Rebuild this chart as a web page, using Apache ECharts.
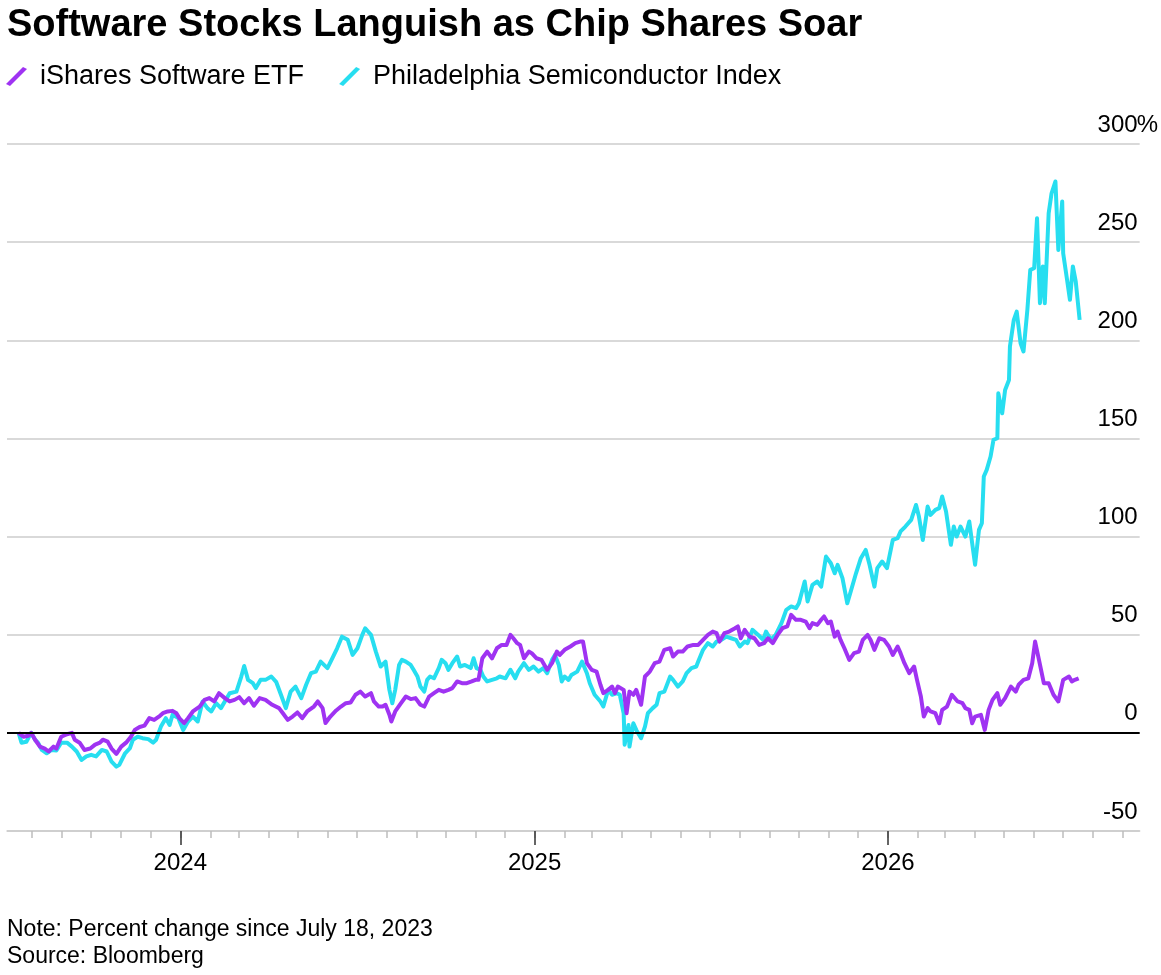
<!DOCTYPE html>
<html>
<head>
<meta charset="utf-8">
<title>Software Stocks Languish as Chip Shares Soar</title>
<script src="https://cdn.jsdelivr.net/npm/echarts@6/dist/echarts.min.js"></script>
<style>
  html, body { margin: 0; padding: 0; background: #ffffff; }
  #chart { width: 1161px; height: 975px; }
</style>
</head>
<body>
<div id="chart"></div>
<script>
// percent change since July 18, 2023; x = days after that date
const startDate = new Date(2023, 6, 18)

const softDays = [0, 5, 10, 13, 17, 22, 27, 31, 36, 39, 44, 50, 55, 58, 63, 68, 74, 79, 84, 87,
  92, 96, 101, 106, 111, 116, 120, 125, 130, 135, 140, 146, 149, 154, 159, 163, 166, 171, 175, 180,
  187, 192, 197, 202, 207, 213, 218, 223, 228, 233, 238, 243, 249, 255, 262, 269, 273, 278, 283, 288,
  293, 298, 305, 309, 314, 317, 322, 328, 333, 338, 343, 348, 353, 358, 364, 367, 372,
  376, 379, 383, 385, 389, 395, 400, 405, 410, 415, 419, 424, 429, 434, 439, 444, 448, 453, 458, 463,
  468, 472, 475, 479, 484, 489, 494, 499, 504, 508, 511, 515, 518, 522, 527, 530, 535, 540, 546, 551,
  556, 559, 564, 570, 575, 580, 583, 587, 592, 597, 601, 604, 609, 613, 616, 619, 625, 628, 631, 635,
  638, 643, 647, 652, 657, 662, 667, 673, 676, 681, 686, 691, 697,
  702, 707, 712, 717, 721, 724, 729, 734, 740, 743, 746, 750, 755, 760, 765, 770, 774, 779, 784, 789,
  794, 798, 803, 808, 813, 817, 820, 825, 829, 832, 836, 839, 843, 846, 849, 853, 858, 863, 868, 872,
  877, 880, 884, 889, 894, 899, 903, 908, 911, 915, 920, 925, 928, 932, 935, 939, 942, 947, 951, 954,
  959, 964, 970, 975, 978, 982, 985, 988, 994, 998, 1002, 1006, 1011, 1014, 1019, 1025, 1030, 1033, 1038, 1043,
  1047, 1050, 1054, 1059, 1064, 1069, 1074, 1079, 1085, 1088, 1091, 1095]
const softValues = [0, -2, -1.5, 0, -3.5, -7, -8, -9.5, -7, -8, -2, -0.7, 0, -3.5, -5, -8.7, -8, -6, -5, -3.5,
  -4.5, -8, -10.7, -7, -5, -2, 1.5, 3, 3.7, 7.5, 6.6, 8.7, 10, 10.9, 11.2, 10, 7.5, 5, 7.5, 10.9,
  13.4, 16.8, 17.7, 16, 20.2, 17.7, 16, 16.8, 18.2, 15.1, 17.7, 13.8, 17.7, 16.8, 14.3, 12.6, 10, 6.6, 8.3, 10.4,
  7.5, 10.9, 13.4, 16, 12.6, 5, 8.3, 11.4, 13.4, 15.1, 15.5, 19.4, 21, 18.5, 20.2, 16, 13.4,
  13.4, 14.3, 9.2, 5.8, 10.9, 15.1, 18.5, 17.2, 17.7, 14.3, 13.4, 18.5, 20.2, 21.9, 21, 21.9, 22.8, 26.2, 25.3, 25.3,
  26.2, 27, 27, 38, 41.4, 38, 43.1, 44.8, 44.8, 49.9, 48.2, 45.7, 44.8, 38, 41.4, 40.6, 38, 37.2, 32.1, 35.5,
  41.4, 39.7, 42.3, 44, 45.7, 46.5, 46.5, 35.5, 32.1, 31.2, 24.5, 20.2, 21.9, 23.6, 20.2, 23.6, 21.9, 10, 21, 19.4,
  21.9, 14.3, 28.7, 31.2, 35.5, 36.3, 42.3, 43.1, 38.9, 41.4, 41.4, 44, 44.8,
  44.8, 47.4, 49.9, 51.6, 50.8, 46.5, 50.8, 51.6, 53.3, 54.2, 48.2, 52.5, 49, 48.2, 44.8, 45.7, 48.2, 45.7, 49.9, 53.3,
  54.2, 60.1, 57.6, 57.6, 56.7, 53.3, 55.9, 55, 57.6, 59.3, 55.9, 56.7, 49, 51.6, 47.4, 43.1, 37.2, 40.6, 41.4, 47.4,
  49.9, 47.4, 42.3, 48.2, 47.4, 44, 39.7, 44, 40.6, 35.5, 30.4, 33.8, 27, 18.5, 8.3, 12.6, 10.9, 10, 4.9, 11.7,
  13.4, 19.4, 16, 15.1, 12.6, 11.7, 4.9, 8.3, 9.2, 1.5, 11.7, 16.8, 20.2, 14.3, 17.7, 23.6, 21, 24.5, 27, 27.8,
  35.5, 46.5, 37.2, 25.3, 25.3, 19.4, 16, 27, 28.7, 26.2, 27, 27.8]

const chipDays = [0, 3, 8, 13, 17, 20, 24, 29, 34, 39, 44, 50, 55, 60, 65, 70, 75, 80, 86, 91,
  96, 101, 104, 110, 115, 118, 123, 128, 134, 139, 142, 147, 152, 156, 159, 165, 170, 175, 180, 185,
  190, 195, 199, 204, 209, 218, 225, 230, 233, 237, 242, 245, 250, 255, 261, 266, 271, 276, 281, 286,
  292, 297, 302, 307, 312, 319, 324, 329, 334, 340, 345, 350, 355, 358, 364, 369, 374, 379, 383, 386,
  389, 393,
  396, 400, 405, 408, 412, 415, 419, 422, 425, 429, 434, 437, 441, 444, 448, 453, 456, 461, 467, 470,
  473, 477, 480, 484, 489, 494, 497, 503, 508, 513, 516, 522, 527, 532, 537, 542, 546, 551, 554, 558,
  561, 564, 568, 571, 577, 582, 587, 590, 595, 601, 604, 609, 613, 618, 621, 625, 626, 630, 631, 635,
  638, 643, 647, 650, 655, 659, 662, 667, 673, 676, 681, 686, 690, 695, 700,
  702, 707, 712, 717, 721, 726, 731, 736, 741, 745, 750, 753, 758, 764, 769, 772, 777, 782, 788, 793,
  798, 803, 806, 812, 815, 820, 825, 829, 834, 839, 843, 846, 851, 856, 860, 865, 870, 875, 879, 884,
  887, 892, 897, 903, 908, 911, 916, 922, 927, 930, 934, 939, 942, 947, 951, 954, 958,
  963, 966, 969, 973, 978, 982, 985, 988, 992, 995, 997, 1000, 1004, 1007, 1011, 1012, 1016, 1019, 1023, 1024,
  1028, 1031, 1035, 1038, 1042, 1045, 1049, 1052, 1055, 1058, 1060, 1064, 1067, 1071, 1074, 1078, 1079, 1083, 1086, 1089,
  1092, 1096]
const chipValues = [0, -5, -4.5, 0, -3.5, -5, -8.7, -10.4, -8.7, -9, -5, -5, -7, -9.5, -13.8, -12, -11.2, -12, -8.7, -9.5,
  -14.6, -17.2, -16.3, -10.4, -7.8, -3.5, -2, -2.7, -3.2, -5, -3.5, 3.2, 7.5, 4, 9.2, 7.5, 1.5, 5.8, 8.3, 5.8,
  16, 12.6, 10.9, 15.1, 12.6, 20.2, 21, 28.7, 34.1, 27, 25.3, 22.8, 27, 27, 28.7, 26, 19.4, 12.6, 21, 23.6,
  17.7, 24.5, 30.4, 31.2, 36.3, 33, 38, 43.1, 49, 47.4, 39.7, 43.1, 49.9, 53.3, 49.9, 41.4, 33.8, 36.3, 21.9, 15.1,
  21.9, 34.6,
  37.2, 36.3, 34.6, 32.1, 28.7, 23.6, 21, 27, 28.7, 27.8, 33, 37.2, 35.5, 32.1, 35.5, 38.9, 33.8, 34.6, 33, 38,
  33, 32.1, 28.7, 26.2, 27, 27.8, 28.7, 27.8, 32.1, 27.8, 31.2, 35.5, 32.1, 33.8, 31.2, 33, 30.4, 37.2, 39.7, 34.6,
  26.2, 28.7, 27, 29.5, 31.2, 36.3, 30.4, 25.3, 19.4, 16, 13.4, 21.9, 19.4, 20.2, 19.4, 10, -6, 4, -7, 4.9,
  1.5, -2.7, 3.2, 10, 12.6, 14.3, 20.2, 21, 28.7, 27, 23.6, 26.2, 30.4, 33, 33.8,
  36.3, 42.3, 45.7, 44, 46.5, 47.4, 49, 48.2, 47.4, 44, 46.5, 45.7, 52.5, 49.9, 47.4, 51.6, 47.4, 49.9, 55.9, 62.7,
  64.4, 63.5, 66, 77.1, 66.9, 75.4, 77.1, 74.5, 89.8, 86.4, 81.3, 85.6, 78.8, 66, 72.8, 81.3, 89, 93.2, 85.6, 74.5,
  83.9, 87.3, 83.9, 98.3, 99.2, 102.6, 105.1, 108.5, 116.1, 110.2, 98.3, 115.3, 111, 113.6, 114.5, 120.4, 112.8,
  95.8, 105.1, 100, 105.1, 100, 107.7, 96.6, 85.6, 103.4, 106.8, 130.6, 134, 140.8, 149.3, 150.1, 173, 162.8, 174.7, 179.8, 196.8,
  210.4, 214.6, 198.5, 194.3, 215.5, 235.9, 236.7, 262.2, 218.9, 237.6, 218.9, 264.7, 274.9, 280.9, 246, 270.7, 244.3, 230.8, 220.6, 237.6,
  229.9, 210.4]

const yearTicks = ['2024-01-01', '2025-01-01', '2026-01-01']
const seriesNames = ['iShares Software ETF', 'Philadelphia Semiconductor Index']

const purple = '#9f33f2'
const cyan = '#27def0'
const font = "'Liberation Sans', Arial, sans-serif"
const dayMs = 24 * 3600 * 1000

function toPoints (days, values) {
  return days.map((d, i) => [startDate.getTime() + d * dayMs, values[i]])
}

const xMin = new Date(2023, 6, 6).getTime()
const xMax = new Date(2026, 8, 18).getTime()

// first of every month inside the axis range, for the small ticks
const monthTicks = []
for (let d = new Date(2023, 7, 1); d.getTime() <= xMax; d = new Date(d.getFullYear(), d.getMonth() + 1, 1)) {
  monthTicks.push(d.getTime())
}
const yearTickValues = yearTicks.map(s => {
  const p = s.split('-')
  return new Date(+p[0], +p[1] - 1, +p[2]).getTime()
})

const chart = echarts.init(document.getElementById('chart'))
chart.setOption({
  animation: false,
  backgroundColor: '#ffffff',
  title: [
    {
      text: 'Software Stocks Languish as Chip Shares Soar',
      left: 7,
      top: 7,
      padding: 0,
      textStyle: { fontFamily: font, fontSize: 38, fontWeight: 'bold', color: '#000000' }
    },
    {
      text: 'Note: Percent change since July 18, 2023\nSource: Bloomberg',
      left: 7,
      top: 916,
      padding: 0,
      textStyle: { fontFamily: font, fontSize: 23, fontWeight: 'normal', color: '#000000', lineHeight: 27 }
    }
  ],
  legend: {
    data: seriesNames,
    left: 6,
    top: 63,
    padding: 0,
    itemGap: 35,
    itemWidth: 21,
    itemHeight: 19,
    icon: 'path://M0,17 L17,0 L21,2 L4,19 Z',
    selectedMode: false,
    textStyle: { fontFamily: font, fontSize: 27, color: '#000000', padding: [0, 0, 0, 8] }
  },
  grid: { left: 7, right: 18, top: 144, bottom: 144, containLabel: false },
  xAxis: [
    {
      type: 'value',
      min: xMin,
      max: xMax,
      position: 'bottom',
      axisLine: { show: true, onZero: false, lineStyle: { color: '#cccccc', width: 1.5 } },
      axisTick: { show: true, length: 7, customValues: monthTicks, lineStyle: { color: '#bdbdbd', width: 1.5 } },
      axisLabel: { show: false },
      splitLine: { show: false }
    },
    {
      type: 'value',
      min: xMin,
      max: xMax,
      position: 'bottom',
      axisLine: { show: false, onZero: false },
      axisTick: { show: true, length: 14, customValues: yearTickValues, lineStyle: { color: '#333333', width: 1.5 } },
      axisLabel: {
        show: true,
        customValues: yearTickValues,
        margin: 20,
        fontFamily: font,
        fontSize: 24,
        color: '#000000',
        formatter: v => String(new Date(v).getFullYear())
      },
      splitLine: { show: false }
    }
  ],
  yAxis: [
    {
      type: 'value',
      position: 'right',
      min: -50,
      max: 300,
      interval: 50,
      axisLine: { show: false },
      axisTick: { show: false },
      splitLine: { show: true, lineStyle: { color: '#cccccc', width: 1.5 } },
      axisLabel: {
        inside: true,
        align: 'right',
        verticalAlign: 'bottom',
        margin: 2,
        padding: [0, 0, 7, 0],
        fontFamily: font,
        fontSize: 24,
        color: '#000000'
      }
    },
    {
      type: 'value',
      position: 'right',
      min: -50,
      max: 300,
      interval: 50,
      axisLine: { show: false },
      axisTick: { show: false },
      splitLine: { show: false },
      axisLabel: {
        inside: false,
        align: 'left',
        verticalAlign: 'bottom',
        margin: -3,
        padding: [0, 0, 7, 0],
        fontFamily: font,
        fontSize: 24,
        color: '#000000',
        formatter: v => (v === 300 ? '%' : '')
      }
    }
  ],
  series: [
    {
      name: seriesNames[1],
      type: 'line',
      xAxisIndex: 0,
      yAxisIndex: 0,
      data: toPoints(chipDays, chipValues),
      showSymbol: false,
      symbol: 'none',
      color: cyan,
      lineStyle: { color: cyan, width: 4, join: 'round' },
      emphasis: { disabled: true },
      z: 2,
      markLine: {
        silent: true,
        symbol: 'none',
        label: { show: false },
        lineStyle: { color: '#000000', width: 2, type: 'solid' },
        data: [{ yAxis: 0 }]
      }
    },
    {
      name: seriesNames[0],
      type: 'line',
      xAxisIndex: 0,
      yAxisIndex: 0,
      data: toPoints(softDays, softValues),
      showSymbol: false,
      symbol: 'none',
      color: purple,
      lineStyle: { color: purple, width: 4, join: 'round' },
      emphasis: { disabled: true },
      z: 3
    }
  ]
})
</script>
</body>
</html>
